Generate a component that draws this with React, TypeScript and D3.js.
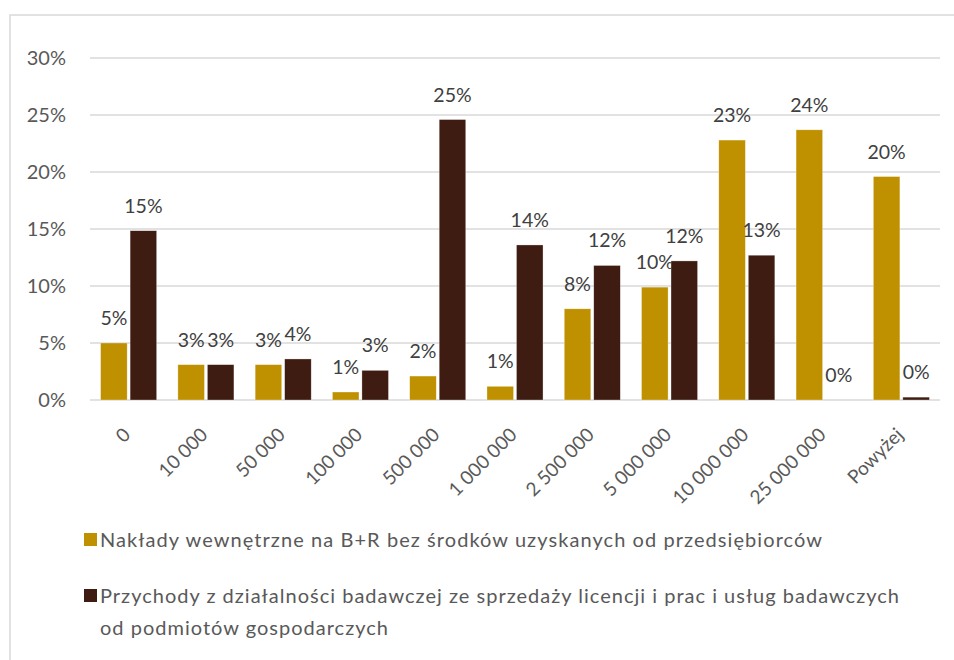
import React from "react";
import * as d3 from "d3";

const categories = ["0", "10 000", "50 000", "100 000", "500 000", "1 000 000", "2 500 000", "5 000 000", "10 000 000", "25 000 000", "Powyżej"];
const seriesNames = ["Nakłady wewnętrzne na B+R bez środków uzyskanych od przedsiębiorców", "Przychody z działalności badawczej ze sprzedaży licencji i prac i usług badawczych"];
const naklady = [5.0, 3.1, 3.1, 0.7, 2.1, 1.2, 8.0, 9.9, 22.8, 23.7, 19.6];
const przychody = [14.85, 3.1, 3.6, 2.6, 24.6, 13.6, 11.8, 12.2, 12.7, 0, 0.25];
const yTicks = [0, 5, 10, 15, 20, 25, 30];
const colors = ["#BF9000", "#3E1C11"];
const legendLines = [
  ["Nakłady wewnętrzne na B+R bez środków uzyskanych od przedsiębiorców"],
  ["Przychody z działalności badawczej ze sprzedaży licencji i prac i usług badawczych", "od podmiotów gospodarczych"],
];

export default function App() {
  const W = 954, H = 660;
  const left = 90, right = 940, top = 58, bottom = 400;
  const font = "Lato, 'Open Sans', sans-serif";
  const y = d3.scaleLinear().domain([0, 30]).range([bottom, top]);
  const x0 = d3.scaleBand<string>().domain(categories).range([left, right]).padding(0);
  const x1 = d3.scaleBand<number>().domain([0, 1]).range([0, x0.bandwidth()]).paddingInner(0.1).paddingOuter(0.36);
  const series = [naklady, przychody];
  const legendWidths = [[722], [799, 288]];
  const legendY = [547, 603];

  return (
    <svg width={W} height={H} style={{ position: "absolute", left: 0, top: 0, background: "#fff" }} fontFamily={font}>
      <rect x={10} y={15} width={960} height={670} fill="none" stroke="#D9D9D9" strokeWidth={1.5} />
      {yTicks.map((t) => (
        <g key={t}>
          <line x1={left} x2={right} y1={y(t)} y2={y(t)} stroke="#D9D9D9" strokeWidth={1.5} />
          <text x={66} y={y(t)} dy="0.36em" textAnchor="end" fontSize={20} fill="#595959">{t}%</text>
        </g>
      ))}
      {categories.map((c, i) => (
        <g key={c} transform={`translate(${x0(c)},0)`}>
          {series.map((s, k) => {
            const v = s[i];
            const bx = x1(k)!;
            const bw = x1.bandwidth();
            return (
              <g key={k}>
                {v > 0 && (
                  <rect x={bx} y={y(v)} width={bw} height={y(0) - y(v)} fill={colors[k]} stroke="#ffffff" strokeOpacity={0.5} strokeWidth={0.6} />
                )}
                <text x={bx + bw / 2} y={y(v) - 18} textAnchor="middle" fontSize={19.5} fill="#404040">
                  {Math.round(v)}%
                </text>
              </g>
            );
          })}
        </g>
      ))}
      {categories.map((c) => {
        const cx = x0(c)! + x0.bandwidth() / 2;
        return (
          <text key={"l" + c} transform={`translate(${cx + 3},${436}) rotate(-45)`} textAnchor="end" fontSize={19} fill="#595959">
            {c}
          </text>
        );
      })}
      {seriesNames.map((n, k) => (
        <g key={n}>
          <rect x={84} y={legendY[k] - 14} width={13} height={13} fill={colors[k]} />
          {legendLines[k].map((ln, j) => (
            <text key={j} x={100} y={legendY[k] + j * 32} fontSize={20} fill="#595959" textLength={legendWidths[k][j]} lengthAdjust="spacing">
              {ln}
            </text>
          ))}
        </g>
      ))}
    </svg>
  );
}
